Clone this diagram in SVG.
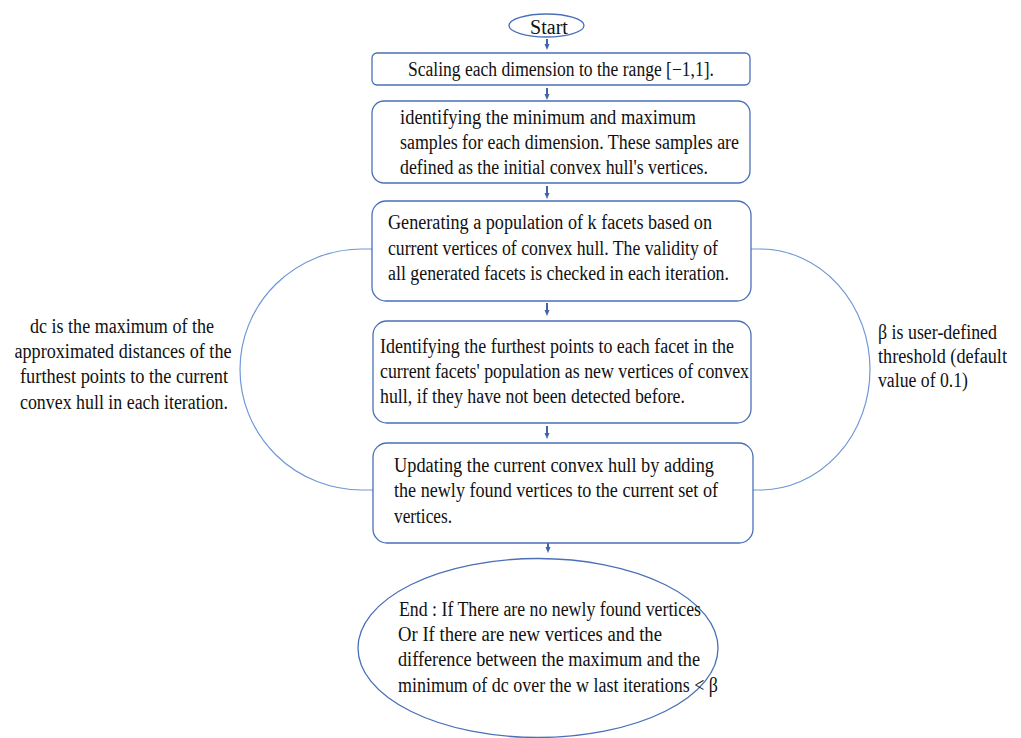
<svg xmlns="http://www.w3.org/2000/svg" width="1021" height="738" viewBox="0 0 1021 738">
<style>
.box{fill:#fff;stroke:#4a70b8;stroke-width:1.3}
.loop{fill:none;stroke:#7097d8;stroke-width:1.2}
.arr{stroke:#3f64a8;stroke-width:2;fill:none}
text{font-family:"Liberation Serif","DejaVu Serif",serif;font-size:20px;fill:#111}
</style>
<defs>
<marker id="ah" markerWidth="6" markerHeight="6" refX="3" refY="3" orient="auto" markerUnits="userSpaceOnUse">
<path d="M0,0.5 L6,3 L0,5.5 Z" fill="#3f64a8"/>
</marker>
</defs>
<rect width="1021" height="738" fill="#fff"/>
<g id="connectors">
<path class="arr" d="M547,39 V47" marker-end="url(#ah)"/>
<path class="arr" d="M547,88 V97" marker-end="url(#ah)"/>
<path class="arr" d="M547,186 V196" marker-end="url(#ah)"/>
<path class="arr" d="M547,303 V313" marker-end="url(#ah)"/>
<path class="arr" d="M547,426 V436" marker-end="url(#ah)"/>
<path class="arr" d="M548,543 V550" marker-end="url(#ah)"/>
<path class="loop" d="M372,249 H362 A122,120.5 0 0 0 362,490 H373"/>
<path class="loop" d="M751,249 H760 A110,120.5 0 0 1 760,490 H753"/>
</g>
<g id="start">
<ellipse class="box" cx="546.5" cy="25.5" rx="37.5" ry="11.5"/>
<text x="549" y="34" text-anchor="middle">Start</text>
</g>
<g id="scale">
<rect class="box" x="372" y="53" width="378" height="32" rx="5"/>
<text x="408" y="76" textLength="306" lengthAdjust="spacingAndGlyphs">Scaling each dimension to the range [−1,1].</text>
</g>
<g id="init">
<rect class="box" x="372" y="101" width="378" height="82" rx="12"/>
<text x="400" y="124" textLength="296" lengthAdjust="spacingAndGlyphs">identifying the minimum  and maximum</text>
<text x="400" y="149" textLength="339" lengthAdjust="spacingAndGlyphs">samples for each dimension. These samples are</text>
<text x="400" y="174" textLength="308" lengthAdjust="spacingAndGlyphs">defined as the initial convex hull's vertices.</text>
</g>
<g id="generate">
<rect class="box" x="372" y="201" width="379" height="100" rx="14"/>
<text x="388" y="229" textLength="324" lengthAdjust="spacingAndGlyphs">Generating a population of k facets based on</text>
<text x="388" y="255" textLength="330" lengthAdjust="spacingAndGlyphs">current vertices of convex hull. The validity of</text>
<text x="388" y="280" textLength="341" lengthAdjust="spacingAndGlyphs">all generated facets is checked in each iteration.</text>
</g>
<g id="identify">
<rect class="box" x="373" y="321" width="378" height="102" rx="14"/>
<text x="380" y="353" textLength="354" lengthAdjust="spacingAndGlyphs">Identifying the furthest points to each facet in the</text>
<text x="380" y="378" textLength="369" lengthAdjust="spacingAndGlyphs">current facets' population as new vertices of convex</text>
<text x="380" y="403" textLength="305" lengthAdjust="spacingAndGlyphs">hull, if they have not been detected before.</text>
</g>
<g id="update">
<rect class="box" x="373" y="443" width="380" height="100" rx="14"/>
<text x="394" y="472" textLength="320" lengthAdjust="spacingAndGlyphs">Updating the current convex hull by adding</text>
<text x="394" y="497" textLength="324" lengthAdjust="spacingAndGlyphs">the newly found vertices to the current set of</text>
<text x="394" y="523" textLength="58" lengthAdjust="spacingAndGlyphs">vertices.</text>
</g>
<g id="end">
<ellipse class="box" cx="538" cy="648" rx="180" ry="89.5"/>
<text x="399" y="616" textLength="302" lengthAdjust="spacingAndGlyphs">End : If There are no newly found vertices</text>
<text x="398" y="641" textLength="264" lengthAdjust="spacingAndGlyphs">Or  If there are new vertices  and the</text>
<text x="398" y="666" textLength="302" lengthAdjust="spacingAndGlyphs">difference between the maximum and the</text>
<text x="398" y="692" textLength="320" lengthAdjust="spacingAndGlyphs">minimum of dc over the w last iterations &lt; β</text>
</g>
<g id="dc-note">
<text x="122" y="333" text-anchor="middle" textLength="184" lengthAdjust="spacingAndGlyphs">dc is the maximum of the</text>
<text x="123" y="358" text-anchor="middle" textLength="217" lengthAdjust="spacingAndGlyphs">approximated distances of the</text>
<text x="124" y="383" text-anchor="middle" textLength="208" lengthAdjust="spacingAndGlyphs">furthest points to the current</text>
<text x="124" y="409" text-anchor="middle" textLength="208" lengthAdjust="spacingAndGlyphs">convex hull in each iteration.</text>
</g>
<g id="beta-note">
<text x="878" y="339" textLength="119" lengthAdjust="spacingAndGlyphs">β is user-defined</text>
<text x="878" y="363" textLength="129" lengthAdjust="spacingAndGlyphs">threshold (default</text>
<text x="878" y="387" textLength="90" lengthAdjust="spacingAndGlyphs">value of 0.1)</text>
</g>
</svg>
